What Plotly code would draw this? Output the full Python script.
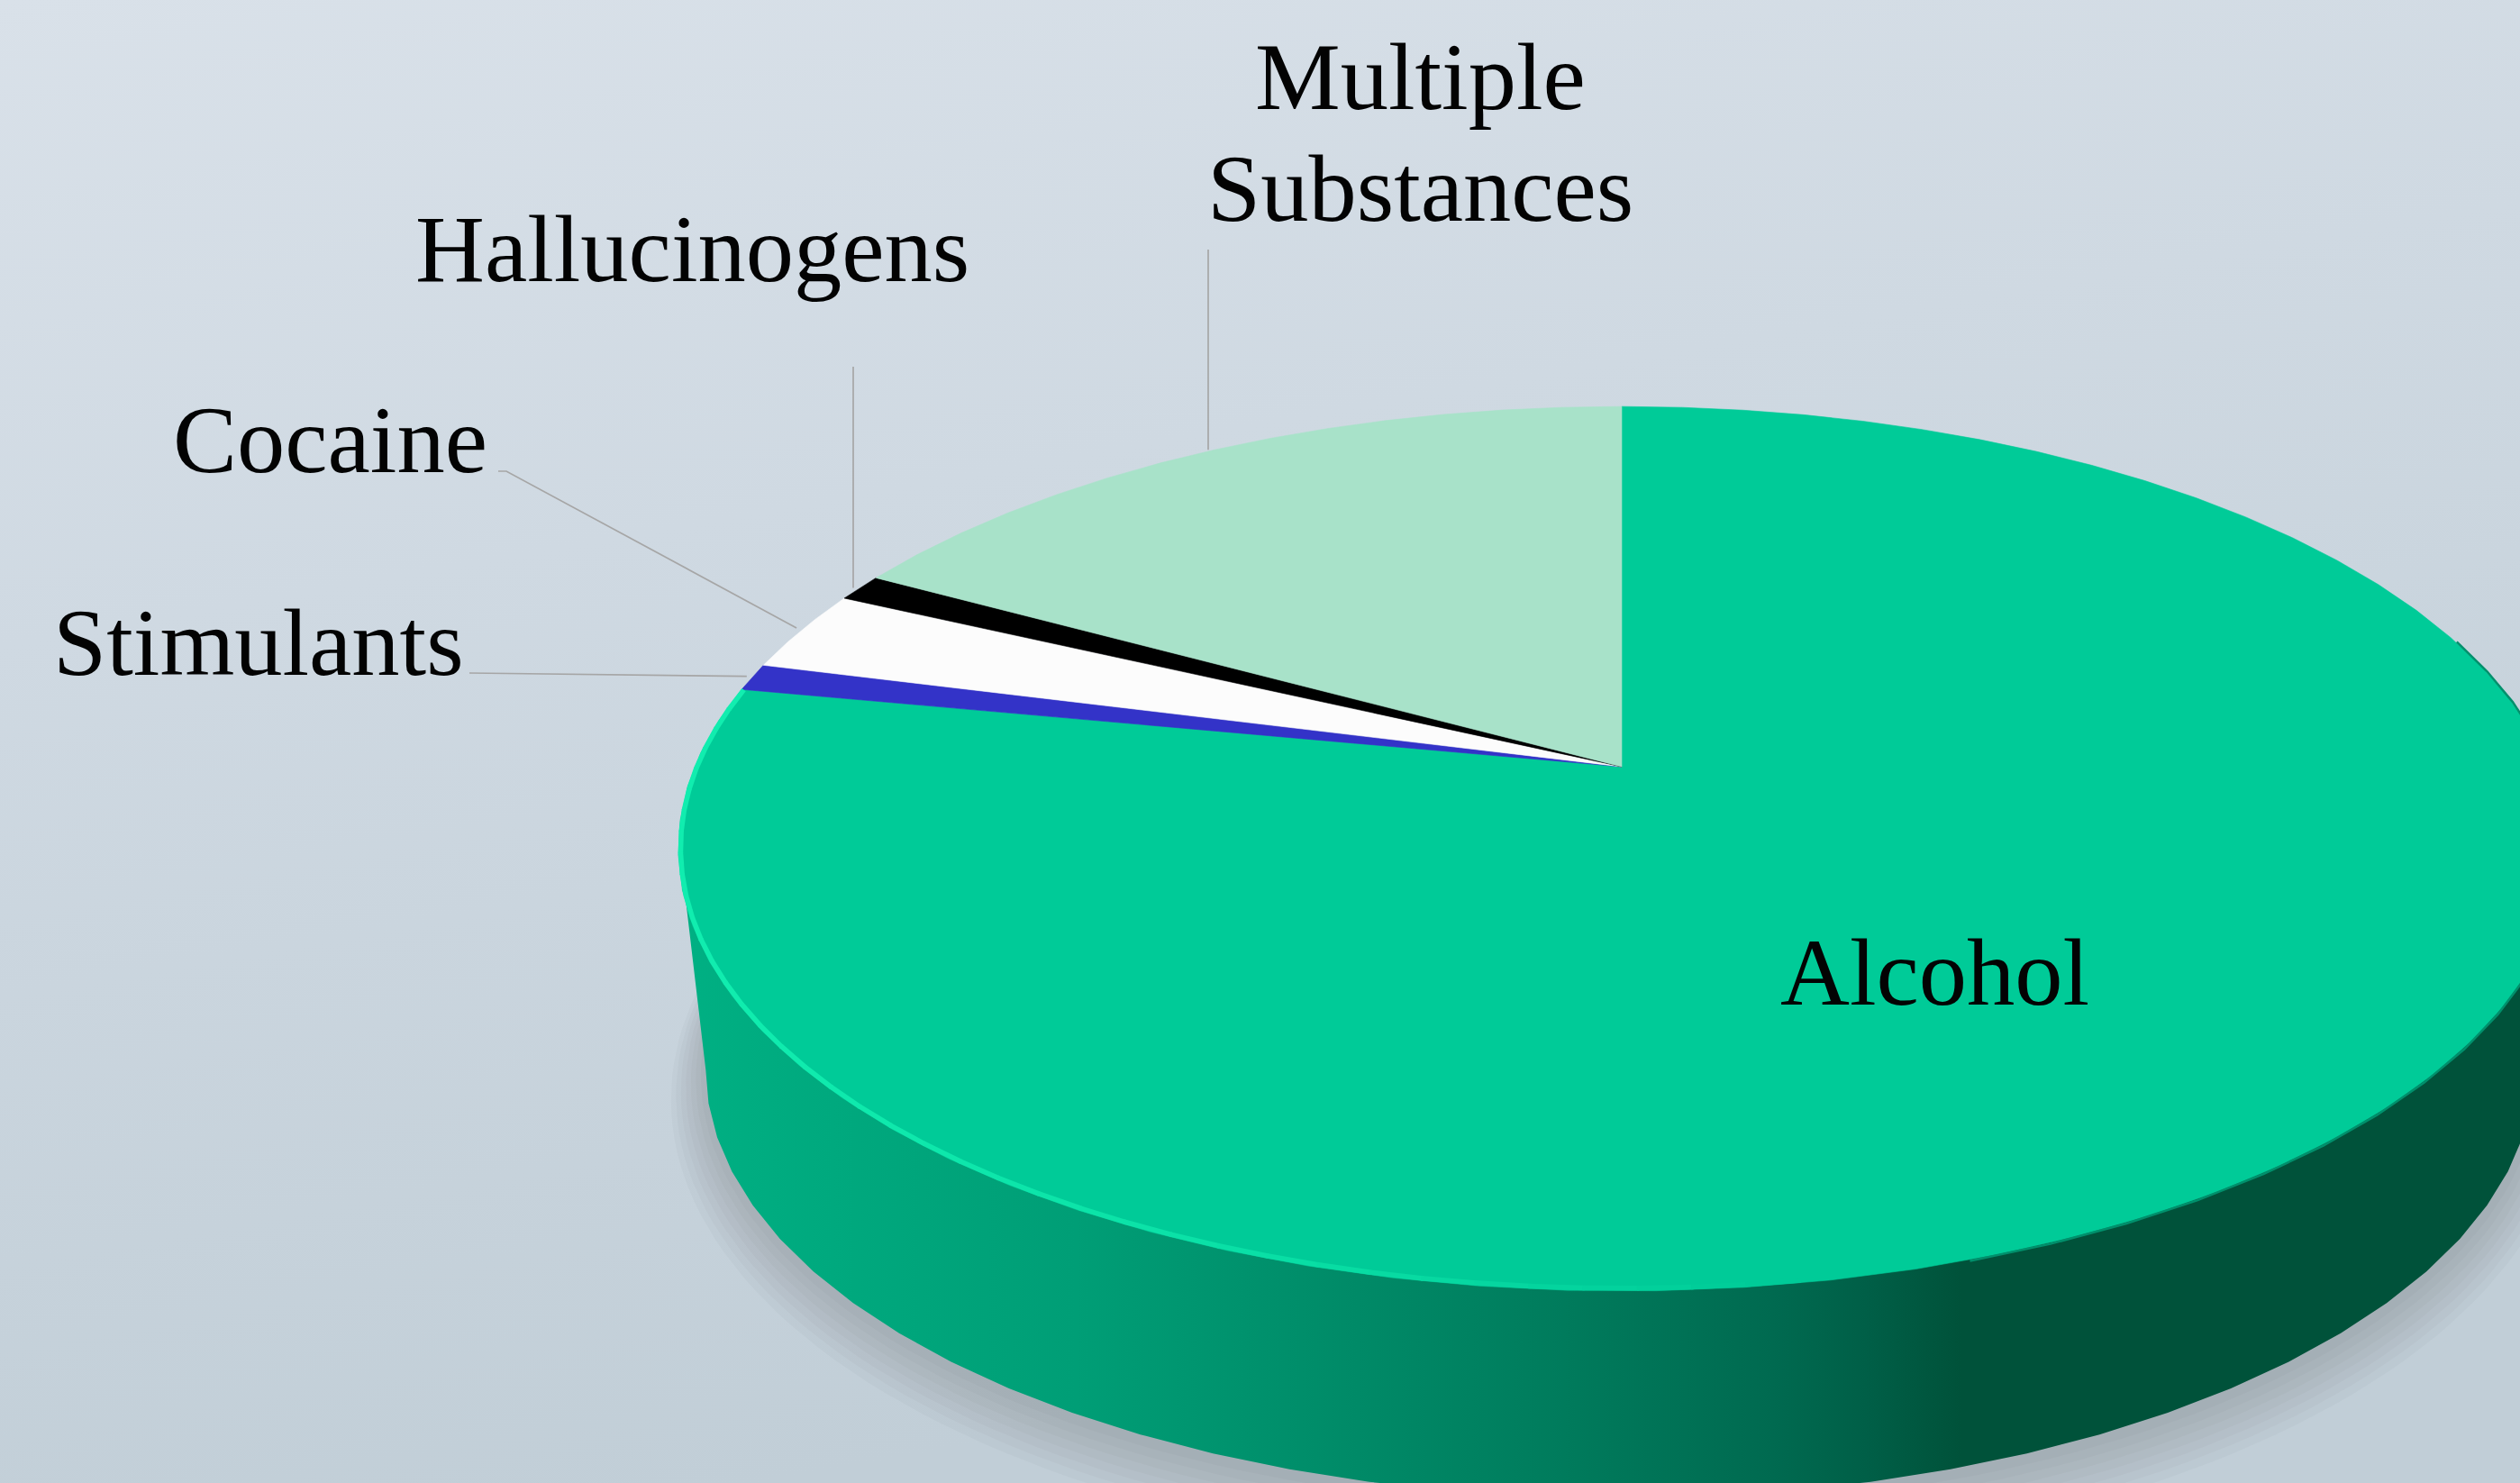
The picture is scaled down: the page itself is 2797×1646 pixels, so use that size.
import numpy as np
import plotly.graph_objects as go
from urllib.parse import quote

categories = ["Alcohol", "Stimulants", "Cocaine", "Hallucinogens", "Multiple Substances"]
values = [78, 1, 3, 1, 17]
colors = ["#00cb98", "#3333c8", "#fcfcfc", "#000000", "#a8e2c9"]

W, H = 2797, 1646
CX, CY, A, B, K = 1800, 851, 1029, 474, 0.1855
DEPTH, BOTTOM_SCALE, BOTTOM_DX = 248, 0.969, -2
FACET = np.radians(4.5)
LEFT_EXTREME = 2 * np.pi - np.arccos(-K)
RIGHT_EXTREME = np.arccos(-K)


def project(theta, scale=1.0, dx=0.0, dy=0.0, grow=0.0):
    u, v = np.sin(theta), np.cos(theta)
    w = 1 + K * v
    return (CX + dx + (A * scale + grow) * u / w, CY + dy - (B * scale + grow) * v / w)


def arc(t0, t1, n=None, **kw):
    if n is None:
        n = max(2, int(np.ceil(abs(t1 - t0) / FACET)) + 1)
    return project(np.linspace(t0, t1, n), **kw)


edges = 2 * np.pi * np.concatenate([[0], np.cumsum(values)]) / sum(values)
mids = (edges[:-1] + edges[1:]) / 2

fig = go.Figure()

# soft shadow beneath the disc
for i in range(1, 8):
    x, y = arc(0, 2 * np.pi, 240, scale=BOTTOM_SCALE, dx=BOTTOM_DX, dy=DEPTH + 2 + i * 3.4, grow=i * 5.4)
    fig.add_trace(go.Scatter(x=x, y=y, mode="lines", fill="toself", line=dict(width=0),
                             fillcolor="rgba(60,70,70,0.031)", hoverinfo="skip", showlegend=False))

# side wall
tx, ty = arc(RIGHT_EXTREME, LEFT_EXTREME, grow=-1.5)
bx, by = arc(LEFT_EXTREME, RIGHT_EXTREME, scale=BOTTOM_SCALE, dx=BOTTOM_DX, dy=DEPTH)
fig.add_trace(go.Scatter(
    x=np.concatenate([tx, bx]), y=np.concatenate([ty, by]), mode="lines", fill="toself",
    line=dict(width=0), hoverinfo="skip", showlegend=False,
    fillgradient=dict(type="horizontal", colorscale=[
        [0.00, "#00b083"], [0.21, "#009e76"], [0.45, "#007e5e"],
        [0.58, "#006a50"], [0.63, "#005f47"], [0.68, "#00523a"], [1.00, "#00523a"]]),
))

# top slices
for name, v, c, t0, t1 in zip(categories, values, colors, edges[:-1], edges[1:]):
    ax, ay = arc(t0, t1)
    fig.add_trace(go.Scatter(
        x=np.concatenate([[CX], ax, [CX]]), y=np.concatenate([[CY], ay, [CY]]),
        mode="lines", fill="toself", fillcolor=c, line=dict(width=0.6, color=c),
        name=name, hoverinfo="name", showlegend=False))

# soft transition on the right part of the rim
rx, ry = arc(RIGHT_EXTREME - 0.5, np.pi * 0.9, grow=1)
fig.add_trace(go.Scatter(x=rx, y=ry, mode="lines", line=dict(width=2.5, color="#00906c"),
                         hoverinfo="skip", showlegend=False))

# rim highlight along the front-left edge, fading towards the bottom
seg = np.linspace(edges[1], np.pi * 0.95, 41)
for i in range(40):
    f = i / 39
    g = int(238 - (238 - 203) * f ** 3)
    b = int(176 - (176 - 152) * f ** 3)
    sx, sy = arc(seg[i], seg[i + 1] - 0.002, 3, grow=-2.5)
    fig.add_trace(go.Scatter(x=sx, y=sy, mode="lines",
                             line=dict(width=5.5, color=f"rgb({int(18 * (1 - f ** 3))},{g},{b})"),
                             hoverinfo="skip", showlegend=False))

# leader lines, ending on each slice's mid-angle at the rim
leader_paths = {1: [(521, 747)], 2: [(553, 523), (562, 523)], 3: [(947, 407)], 4: [(1341, 277)]}
for idx, pts in leader_paths.items():
    ex, ey = project(mids[idx])
    if idx >= 3:
        xs, ys = [pts[0][0]] * 2, [pts[0][1], float(ey)]
    else:
        xs = [p[0] for p in pts] + [float(ex) - (6 if idx == 1 else 5)]
        ys = [p[1] for p in pts] + [float(ey) - (1 if idx == 1 else 3)]
    fig.add_trace(go.Scatter(x=xs, y=ys, mode="lines", line=dict(width=1.7, color="#a6a6a6"),
                             hoverinfo="skip", showlegend=False))

labels = [
    ("Multiple", 1576, 85), ("Substances", 1576, 209),
    ("Hallucinogens", 768, 276), ("Cocaine", 366, 488),
    ("Stimulants", 287, 713), ("Alcohol", 2147, 1079),
]
annotations = [dict(x=x, y=y, text=t, showarrow=False, xanchor="center", yanchor="middle",
                    font=dict(family="Liberation Serif", size=106.5, color="#030303"))
               for t, x, y in labels]

bg_svg = (f'<svg xmlns="http://www.w3.org/2000/svg" width="{W}" height="{H}">'
          '<defs><linearGradient id="g" x1="0" y1="0" x2="0.3" y2="1">'
          '<stop offset="0" stop-color="#d9e1e9"/><stop offset="0.4" stop-color="#cfd9e2"/>'
          '<stop offset="1" stop-color="#c1ced7"/></linearGradient></defs>'
          f'<rect width="{W}" height="{H}" fill="url(#g)"/></svg>')

fig.update_layout(
    width=W, height=H, margin=dict(l=0, r=0, t=0, b=0),
    paper_bgcolor="#d0d9e2", plot_bgcolor="rgba(0,0,0,0)",
    xaxis=dict(range=[0, W], visible=False, fixedrange=True),
    yaxis=dict(range=[H, 0], visible=False, fixedrange=True),
    annotations=annotations,
    images=[dict(source="data:image/svg+xml," + quote(bg_svg), xref="x", yref="y", x=0, y=0,
                 sizex=W, sizey=H, sizing="stretch", xanchor="left", yanchor="top", layer="below")],
    showlegend=False,
)
fig.write_html("out.html", config=dict(displayModeBar=False),
               post_script="document.body.style.margin='0';document.body.style.overflow='hidden';")
